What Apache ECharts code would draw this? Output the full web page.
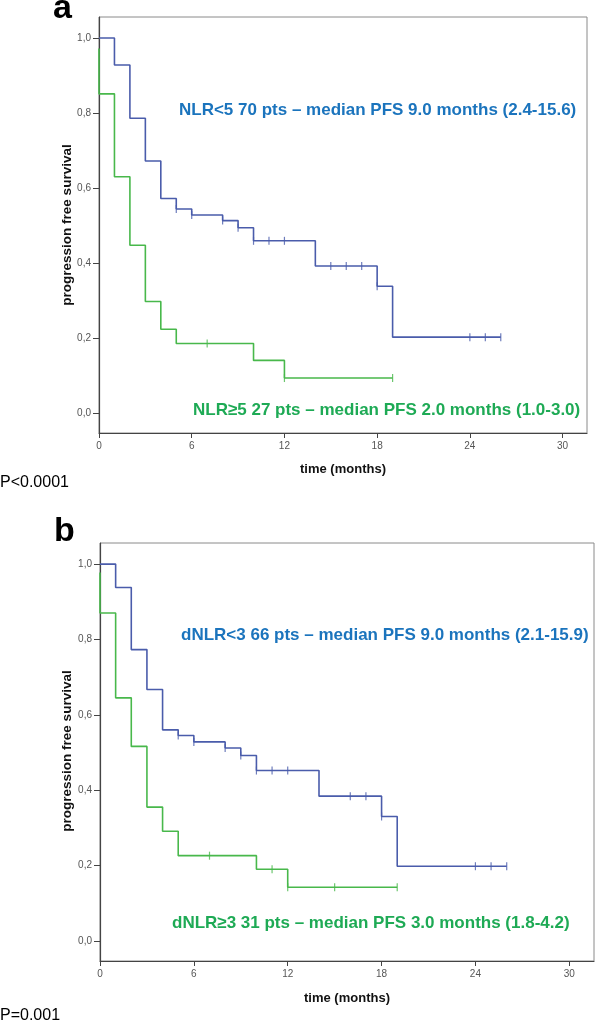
<!DOCTYPE html>
<html>
<head>
<meta charset="utf-8">
<script src="https://cdn.jsdelivr.net/npm/echarts@6/dist/echarts.min.js"></script>
<style>
html,body{margin:0;padding:0;background:#fff;}
#chart{width:596px;height:1022px;}
</style>
</head>
<body>
<div id="chart"></div>
<script>
// ---- data ----
const xTicks = [0, 6, 12, 18, 24, 30];
const yTicks = [0, 0.2, 0.4, 0.6, 0.8, 1.0];

// Panel a
const aLowTimes  = [0, 1, 2, 3, 4, 5, 6, 8, 9, 10, 14, 18, 19, 26];
const aLowVals   = [1.0, 0.928, 0.786, 0.672, 0.572, 0.544, 0.528, 0.513, 0.494, 0.459, 0.392, 0.338, 0.202, 0.202];
const aLowCensor = [5, 6, 8, 9, 10, 11, 12, 15, 16, 17, 18, 24, 25, 26];
const aHighTimes  = [0, 0, 1, 2, 3, 4, 5, 10, 12, 19];
const aHighVals   = [0.972, 0.851, 0.63, 0.447, 0.297, 0.223, 0.185, 0.140, 0.093, 0.093];
const aHighCensor = [7, 12, 19];

// Panel b
const bLowTimes  = [0, 1, 2, 3, 4, 5, 6, 8, 9, 10, 14, 18, 19, 26];
const bLowVals   = [1.0, 0.938, 0.773, 0.667, 0.560, 0.545, 0.528, 0.512, 0.492, 0.452, 0.384, 0.330, 0.198, 0.198];
const bLowCensor = [5, 6, 8, 9, 10, 11, 12, 16, 17, 18, 24, 25, 26];
const bHighTimes  = [0, 0, 1, 2, 3, 4, 5, 10, 12, 19];
const bHighVals   = [0.978, 0.870, 0.645, 0.516, 0.355, 0.291, 0.226, 0.190, 0.142, 0.142];
const bHighCensor = [7, 11, 12, 15, 19];

const aLowLabel  = 'NLR<5 70 pts \u2013 median PFS 9.0 months (2.4-15.6)';
const aHighLabel = 'NLR\u22655 27 pts \u2013 median PFS 2.0 months (1.0-3.0)';
const bLowLabel  = 'dNLR<3 66 pts \u2013 median PFS 9.0 months (2.1-15.9)';
const bHighLabel = 'dNLR\u22653 31 pts \u2013 median PFS 3.0 months (1.8-4.2)';
const aP = 'P<0.0001';
const bP = 'P=0.001';

// ---- styling ----
const FONT = '"Liberation Sans", Arial, Helvetica, sans-serif';
const LINE_BLUE = '#4a5cab';
const LINE_GREEN = '#48b84b';
const TXT_BLUE = '#1b74bd';
const TXT_GREEN = '#1eaa55';

function pairs(t, v){ return t.map((x,i)=>[x, v[i]]); }
function censorPts(t, v, c){
  return c.map(ct => {
    let val = v[0];
    for (let i = 0; i < t.length; i++) { if (t[i] <= ct) val = v[i]; }
    return [ct, val];
  });
}

const grids = [
  {left: 99, top: 17, width: 488, height: 416},
  {left: 100, top: 543, width: 494, height: 418}
];

function xAxis(gi){
  return {
    type: 'value', gridIndex: gi, min: 0, max: 31.58,
    axisLine: {show: true, onZero: false, lineStyle: {color: '#444', width: 1.2}},
    axisTick: {show: true, length: 5, customValues: xTicks, lineStyle: {color: '#444'}},
    axisLabel: {show: true, customValues: xTicks, color: '#555', fontSize: 10, fontFamily: FONT, margin: 8},
    splitLine: {show: false}
  };
}
function yAxis(gi){
  return {
    type: 'value', gridIndex: gi, min: -0.0536, max: 1.056,
    axisLine: {show: true, onZero: false, lineStyle: {color: '#444', width: 1.2}},
    axisTick: {show: true, length: 6, customValues: yTicks, lineStyle: {color: '#444'}},
    axisLabel: {show: true, customValues: yTicks, color: '#555', fontSize: 10, fontFamily: FONT, margin: 8,
      formatter: v => v.toFixed(1).replace('.', ',')},
    splitLine: {show: false}
  };
}

function stepSeries(gi, t, v, color){
  return {
    type: 'line', xAxisIndex: gi, yAxisIndex: gi, step: 'end',
    data: pairs(t, v), showSymbol: false, symbol: 'none',
    lineStyle: {color: color, width: 1.6}, z: 3, animation: false
  };
}
function censorSeries(gi, t, v, c, color){
  return {
    type: 'scatter', xAxisIndex: gi, yAxisIndex: gi,
    data: censorPts(t, v, c), symbol: 'rect', symbolSize: [1.2, 8],
    itemStyle: {color: color}, z: 4, animation: false
  };
}

function txt(x, y, s, font, color, align, rot){
  return {
    type: 'text', x: x, y: y, rotation: rot || 0, silent: true,
    style: {text: s, font: font, fill: color, align: align || 'left', verticalAlign: 'middle'}
  };
}

const chart = echarts.init(document.getElementById('chart'), null, {renderer: 'canvas'});
chart.setOption({
  animation: false,
  backgroundColor: '#ffffff',
  grid: grids.map(g => Object.assign({show: true, borderColor: '#8a8a8a', borderWidth: 1, backgroundColor: 'transparent'}, g)),
  xAxis: [xAxis(0), xAxis(1)],
  yAxis: [yAxis(0), yAxis(1)],
  series: [
    stepSeries(0, aLowTimes, aLowVals, LINE_BLUE),
    stepSeries(0, aHighTimes, aHighVals, LINE_GREEN),
    censorSeries(0, aLowTimes, aLowVals, aLowCensor, LINE_BLUE),
    censorSeries(0, aHighTimes, aHighVals, aHighCensor, LINE_GREEN),
    stepSeries(1, bLowTimes, bLowVals, LINE_BLUE),
    stepSeries(1, bHighTimes, bHighVals, LINE_GREEN),
    censorSeries(1, bLowTimes, bLowVals, bLowCensor, LINE_BLUE),
    censorSeries(1, bHighTimes, bHighVals, bHighCensor, LINE_GREEN)
  ],
  graphic: [
    txt(53, 9, 'a', 'bold 34px ' + FONT, '#000'),
    txt(54, 532, 'b', 'bold 34px ' + FONT, '#000'),
    txt(179, 110, aLowLabel, 'bold 17px ' + FONT, TXT_BLUE),
    txt(193, 410, aHighLabel, 'bold 17px ' + FONT, TXT_GREEN),
    txt(181, 635, bLowLabel, 'bold 17px ' + FONT, TXT_BLUE),
    txt(172, 923, bHighLabel, 'bold 17px ' + FONT, TXT_GREEN),
    txt(67, 225, 'progression free survival', 'bold 13.5px ' + FONT, '#111', 'center', Math.PI/2),
    txt(67, 751, 'progression free survival', 'bold 13.5px ' + FONT, '#111', 'center', Math.PI/2),
    txt(343, 469, 'time (months)', 'bold 13px ' + FONT, '#111', 'center'),
    txt(347, 998, 'time (months)', 'bold 13px ' + FONT, '#111', 'center'),
    txt(0, 483, aP, '16px ' + FONT, '#000'),
    txt(0, 1016, bP, '16px ' + FONT, '#000')
  ]
});
</script>
</body>
</html>
